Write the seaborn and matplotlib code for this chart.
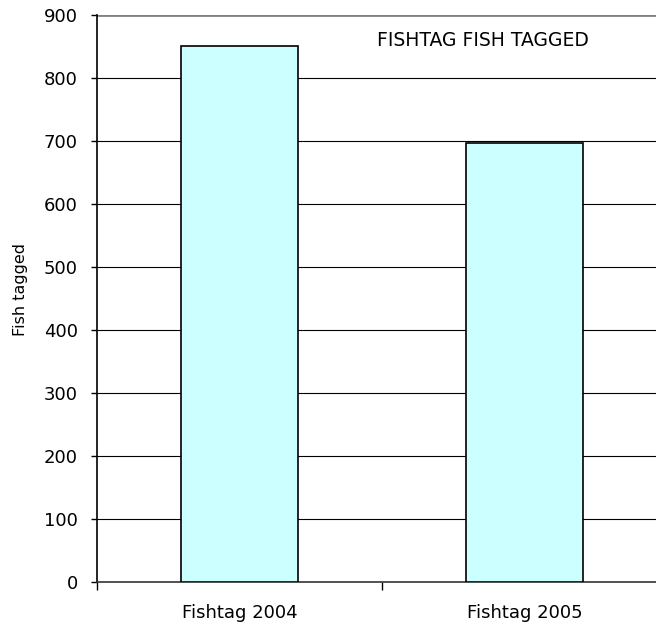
import matplotlib

matplotlib.use("Agg")
import matplotlib.pyplot as plt
import seaborn as sns
import pandas as pd

categories = ["Fishtag 2004", "Fishtag 2005"]
fish_tagged = [850, 697]
y_ticks = [0, 100, 200, 300, 400, 500, 600, 700, 800, 900]

df = pd.DataFrame({"project": categories, "tagged": fish_tagged})

sns.set_style("white")
plt.rcParams["font.family"] = ["DejaVu Sans"]
plt.rcParams["text.color"] = "black"
plt.rcParams["xtick.color"] = "black"
plt.rcParams["ytick.color"] = "black"
plt.rcParams["axes.labelcolor"] = "black"

fig = plt.figure(figsize=(6.56, 6.26), dpi=100)
ax = fig.add_axes([0.148, 0.0703, 0.869, 0.906])

sns.barplot(data=df, x="project", y="tagged", color="#CCFFFF", width=0.41,
            edgecolor="black", linewidth=1.2, saturation=1, ax=ax, zorder=3)

ax.set_xlim(-0.5, 1.5)
ax.set_ylim(0, 900)
ax.set_yticks(y_ticks)
for v in y_ticks[1:-1]:
    ax.axhline(v, color="black", linewidth=0.8, zorder=1)
ax.axhline(900, color="#808080", linewidth=2, zorder=1)

ax.spines["top"].set_visible(False)
ax.spines["right"].set_visible(False)
ax.spines["left"].set_linewidth(1.2)
ax.spines["left"].set_color("black")
ax.spines["bottom"].set_linewidth(1.2)
ax.spines["bottom"].set_color("#333333")

ax.tick_params(axis="y", direction="out", length=4.5, width=1, labelsize=13, pad=9.5, left=True)
ax.tick_params(axis="x", which="major", length=0, labelsize=13, pad=16)
ax.set_xticks([-0.5, 0.5, 1.5], minor=True)
ax.tick_params(axis="x", which="minor", direction="out", length=6, width=1, bottom=True)

ax.set_xlabel("")
ax.set_ylabel("Fish tagged", fontsize=11.5)
ax.yaxis.set_label_coords(-0.121, 0.515)
ax.text(0.482, 860, "FISHTAG FISH TAGGED", fontsize=13.5, ha="left", va="center")

fig.savefig("out.png", dpi=100)
plt.close()
